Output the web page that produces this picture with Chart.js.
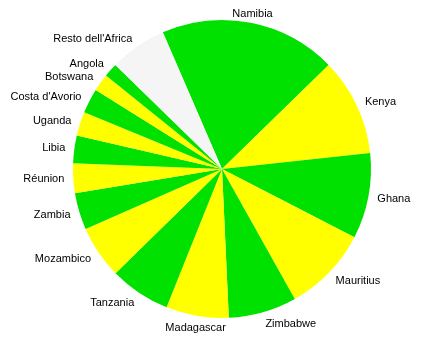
<!DOCTYPE html>
<html>
<head>
<meta charset="utf-8">
<script src="https://cdn.jsdelivr.net/npm/chart.js@4/dist/chart.umd.min.js"></script>
<style>
  html, body { margin: 0; padding: 0; background: #fff; }
  #wrap { width: 424px; height: 346px; }
</style>
</head>
<body>
<div id="wrap"><canvas id="pieChart"></canvas></div>
<script>
const countries = ["Namibia", "Kenya", "Ghana", "Mauritius", "Zimbabwe", "Madagascar", "Tanzania",
  "Mozambico", "Zambia", "Réunion", "Libia", "Uganda", "Costa d'Avorio", "Botswana", "Angola",
  "Resto dell'Africa"];
const shares = [19.2, 10.6, 9.3, 9.3, 7.4, 6.8, 6.6, 5.75, 4.0, 3.2, 3.0, 2.6, 2.7, 1.9, 1.5, 6.2];

const GREEN = "#00e100";
const YELLOW = "#ffff00";
const GRAY = "#f5f5f5";
const sliceColors = countries.map((c, i) => i === countries.length - 1 ? GRAY : (i % 2 === 0 ? GREEN : YELLOW));

// labels outside the pie, no leader lines
const outsideLabels = {
  id: "outsideLabels",
  afterDatasetsDraw(chart) {
    const ctx = chart.ctx;
    const meta = chart.getDatasetMeta(0);
    ctx.save();
    ctx.font = "11px 'Liberation Sans', Arial, sans-serif";
    ctx.fillStyle = "#000";
    ctx.textBaseline = "middle";
    meta.data.forEach((arc, i) => {
      const mid = (arc.startAngle + arc.endAngle) / 2;
      const r = arc.outerRadius + 9;
      const x = arc.x + Math.cos(mid) * r;
      const y = arc.y + Math.sin(mid) * r + Math.max(0, Math.sin(mid)) * 3;
      const c = Math.cos(mid);
      if (Math.abs(c) < 0.2) ctx.textAlign = "center";
      else if (c > 0) ctx.textAlign = "left";
      else ctx.textAlign = "right";
      ctx.fillText(chart.data.labels[i], x, y);
    });
    ctx.restore();
  }
};

const ctx = document.getElementById("pieChart").getContext("2d");
new Chart(ctx, {
  type: "pie",
  data: {
    labels: countries,
    datasets: [{
      data: shares,
      backgroundColor: sliceColors,
      borderWidth: 0,
      hoverOffset: 0
    }]
  },
  options: {
    responsive: true,
    maintainAspectRatio: false,
    animation: false,
    rotation: -23.4,
    layout: { padding: { top: 20, bottom: 28, left: 73, right: 53 } },
    events: [],
    plugins: {
      legend: { display: false },
      tooltip: { enabled: false }
    }
  },
  plugins: [outsideLabels]
});
</script>
</body>
</html>
